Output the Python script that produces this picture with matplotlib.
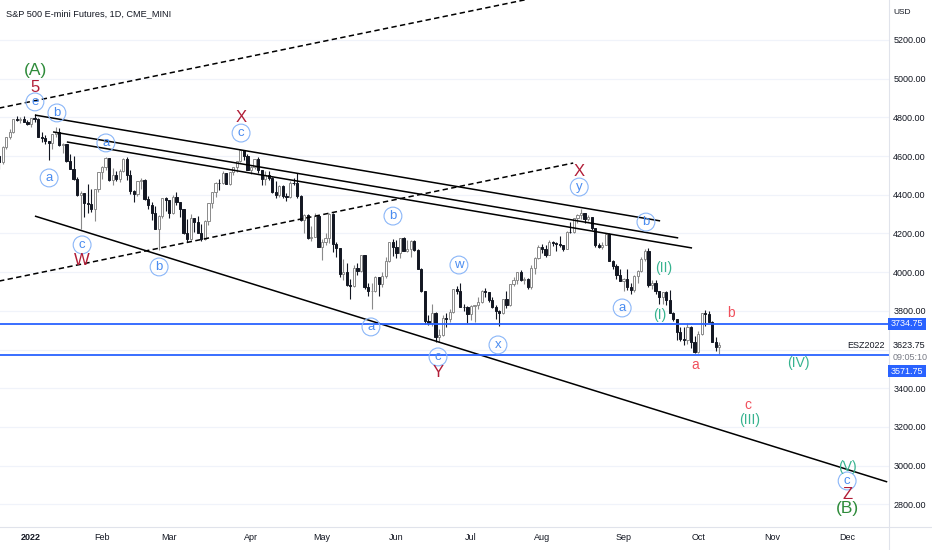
import numpy as np
import pandas as pd
import matplotlib
matplotlib.use('Agg')
import matplotlib.pyplot as plt
from matplotlib.patches import Rectangle
from matplotlib.lines import Line2D

plt.rcParams['font.family'] = ['Liberation Sans', 'DejaVu Sans']

W, H = 932, 550

# ES daily bars, 20 Dec 2021 .. 11 Oct 2022 (one line per month)
opens = np.array([
    4600, 4568, 4648, 4697, 4722, 4790, 4786, 4793, 4778,
    4766, 4795, 4793, 4700, 4696, 4677, 4670, 4713, 4726, 4659, 4663, 4577, 4533, 4483, 4398, 4410, 4356, 4350, 4326, 4432,
    4516, 4546, 4589, 4477, 4501, 4484, 4522, 4587, 4504, 4419, 4402, 4472, 4475, 4380, 4349, 4305, 4225, 4288, 4385,
    4374, 4306, 4387, 4363, 4329, 4201, 4171, 4278, 4260, 4204, 4173, 4262, 4358, 4412, 4463, 4461, 4512, 4457, 4520, 4543, 4576, 4632, 4603,
    4530, 4546, 4583, 4526, 4481, 4500, 4488, 4413, 4397, 4447, 4392, 4391, 4463, 4460, 4394, 4272, 4296, 4175, 4184, 4288,
    4132, 4155, 4175, 4300, 4147, 4123, 3991, 4001, 3935, 3930, 4024, 4008, 4088, 3923, 3901, 3901, 3974, 3941, 3979, 4058, 4158,
    4132, 4101, 4177, 4109, 4121, 4161, 4116, 4018, 3901, 3750, 3735, 3790, 3667, 3675, 3765, 3760, 3796, 3912, 3901, 3821, 3819,
    3785, 3825, 3831, 3845, 3903, 3899, 3855, 3819, 3801, 3790, 3863, 3831, 3937, 3960, 3999, 3962, 3967, 3921, 4024, 4072,
    4130, 4119, 4091, 4155, 4152, 4145, 4140, 4122, 4210, 4207, 4280, 4297, 4305, 4275, 4284, 4228, 4138, 4128, 4141, 4199, 4058, 4031, 3986,
    3955, 3967, 3924, 3908, 3980, 4006, 4067, 4110, 3932, 3946, 3901, 3873, 3900, 3856, 3790, 3758, 3693, 3655, 3647, 3719, 3640,
    3586, 3678, 3791, 3783, 3745, 3640, 3612,
])
highs = np.array([
    4605, 4651, 4698, 4740, 4791, 4808, 4804, 4808, 4787,
    4797, 4819, 4798, 4725, 4708, 4680, 4714, 4749, 4745, 4666, 4663, 4612, 4602, 4494, 4418, 4411, 4454, 4429, 4432, 4516,
    4550, 4595, 4590, 4540, 4522, 4531, 4590, 4595, 4527, 4427, 4472, 4489, 4480, 4394, 4363, 4340, 4295, 4385, 4389,
    4375, 4401, 4416, 4363, 4329, 4276, 4300, 4280, 4292, 4247, 4272, 4360, 4412, 4465, 4481, 4522, 4515, 4520, 4546, 4576, 4637, 4634, 4610,
    4548, 4583, 4593, 4530, 4521, 4521, 4490, 4471, 4453, 4452, 4411, 4471, 4489, 4512, 4400, 4300, 4300, 4240, 4308, 4295,
    4169, 4200, 4308, 4305, 4158, 4125, 4068, 4050, 3965, 4038, 4047, 4090, 4090, 3946, 3943, 3981, 3975, 3999, 4076, 4158, 4169,
    4166, 4177, 4180, 4168, 4165, 4165, 4119, 4020, 3905, 3779, 3838, 3792, 3708, 3780, 3790, 3809, 3914, 3928, 3946, 3837, 3825,
    3829, 3832, 3870, 3906, 3918, 3900, 3874, 3829, 3805, 3863, 3903, 3939, 3975, 4000, 4012, 3976, 3970, 4039, 4078, 4141,
    4144, 4140, 4167, 4161, 4155, 4187, 4142, 4211, 4258, 4280, 4301, 4325, 4306, 4293, 4286, 4230, 4149, 4156, 4200, 4203, 4063, 4044, 4016,
    3970, 4018, 3942, 3987, 4010, 4076, 4119, 4125, 3961, 3959, 3905, 3900, 3905, 3907, 3795, 3760, 3715, 3717, 3736, 3720, 3672,
    3698, 3791, 3807, 3797, 3750, 3666, 3641,
])
lows = np.array([
    4531, 4560, 4636, 4690, 4718, 4780, 4770, 4775, 4760,
    4750, 4775, 4699, 4671, 4663, 4582, 4638, 4701, 4651, 4614, 4568, 4531, 4474, 4395, 4223, 4287, 4305, 4310, 4264, 4415,
    4484, 4530, 4470, 4451, 4471, 4465, 4520, 4477, 4402, 4364, 4395, 4430, 4374, 4327, 4268, 4221, 4114, 4280, 4318,
    4279, 4300, 4345, 4284, 4199, 4157, 4165, 4210, 4200, 4161, 4165, 4245, 4330, 4390, 4425, 4455, 4455, 4450, 4501, 4517, 4570, 4582, 4530,
    4507, 4535, 4514, 4453, 4451, 4477, 4408, 4381, 4390, 4382, 4367, 4385, 4450, 4385, 4267, 4200, 4170, 4162, 4180, 4132,
    4062, 4140, 4153, 4106, 4077, 3975, 3958, 3928, 3859, 3925, 3984, 4000, 3912, 3876, 3810, 3895, 3875, 3925, 3970, 4055, 4084,
    4074, 4074, 4107, 4105, 4080, 4110, 4017, 3900, 3734, 3725, 3723, 3640, 3640, 3670, 3717, 3743, 3790, 3889, 3820, 3800, 3739,
    3753, 3743, 3809, 3840, 3870, 3847, 3815, 3759, 3722, 3785, 3814, 3825, 3929, 3940, 3956, 3937, 3911, 3915, 3993, 4070,
    4097, 4080, 4088, 4136, 4108, 4129, 4112, 4120, 4201, 4205, 4256, 4277, 4253, 4262, 4218, 4129, 4123, 4119, 4140, 4057, 4017, 3965, 3954,
    3903, 3906, 3886, 3900, 3945, 4000, 4060, 3922, 3912, 3888, 3838, 3838, 3831, 3789, 3749, 3648, 3645, 3624, 3630, 3610, 3584,
    3580, 3675, 3723, 3744, 3637, 3591, 3578,
])
closes = np.array([
    4568, 4649, 4697, 4725, 4791, 4786, 4793, 4778, 4766,
    4796, 4793, 4700, 4696, 4677, 4670, 4713, 4726, 4659, 4663, 4577, 4533, 4483, 4398, 4410, 4356, 4350, 4326, 4432, 4516,
    4546, 4589, 4477, 4501, 4484, 4522, 4587, 4504, 4419, 4402, 4472, 4475, 4380, 4349, 4305, 4225, 4288, 4385, 4374,
    4306, 4387, 4363, 4329, 4201, 4171, 4278, 4260, 4204, 4173, 4262, 4358, 4412, 4463, 4461, 4512, 4457, 4520, 4543, 4576, 4632, 4603, 4530,
    4546, 4583, 4526, 4481, 4500, 4488, 4413, 4397, 4447, 4392, 4391, 4463, 4460, 4394, 4272, 4296, 4175, 4184, 4288, 4132,
    4155, 4175, 4300, 4147, 4123, 3991, 4001, 3935, 3930, 4024, 4008, 4088, 3923, 3901, 3901, 3974, 3941, 3979, 4058, 4158, 4132,
    4101, 4177, 4109, 4121, 4161, 4116, 4018, 3901, 3750, 3735, 3790, 3667, 3675, 3765, 3760, 3796, 3912, 3901, 3821, 3819, 3785,
    3825, 3831, 3845, 3903, 3899, 3855, 3819, 3801, 3790, 3863, 3831, 3937, 3960, 3999, 3962, 3967, 3921, 4024, 4072, 4130,
    4119, 4091, 4155, 4152, 4145, 4140, 4122, 4210, 4207, 4280, 4297, 4305, 4275, 4284, 4228, 4138, 4128, 4141, 4199, 4058, 4031, 3986, 3955,
    3967, 3924, 3908, 3980, 4006, 4067, 4110, 3932, 3946, 3901, 3873, 3900, 3856, 3790, 3758, 3693, 3655, 3647, 3719, 3640, 3586,
    3678, 3791, 3783, 3745, 3640, 3612, 3624,
])

holidays = ['2021-12-24', '2022-01-17', '2022-02-21', '2022-04-15', '2022-05-30',
            '2022-06-20', '2022-07-04', '2022-09-05', '2022-11-24']
month_labels = ['2022', 'Feb', 'Mar', 'Apr', 'May', 'Jun', 'Jul', 'Aug', 'Sep', 'Oct', 'Nov', 'Dec']
price_ticks = [2800, 3000, 3200, 3400, 3800, 4000, 4200, 4400, 4600, 4800, 5000, 5200]
grid_levels = [2800, 3000, 3200, 3400, 3600, 3800, 4000, 4200, 4400, 4600, 4800, 5000, 5200]

# drawings: (bar, price) end points, bar 0 = 3 Jan 2022
solid_lines = [((1.1, 4812), (177.3, 4265)),
               ((6.2, 4725), (182.4, 4177)),
               ((10.1, 4673), (186.3, 4125)),
               ((1.1, 4290), (241.3, 2916))]
dashed_lines = [((-9.0, 4848), (160.0, 5486)),
                ((-9.0, 3954), (152.8, 4564))]
hlines = [3734.75, 3571.75]

wave_labels = [
    ('(A)', 1.4, 5040, 'green'), ('5', 1.1, 4952, 'red'), ('e', 1.1, 4880, 'circle'),
    ('b', 7.3, 4823, 'circle'), ('a', 5.1, 4487, 'circle'), ('a', 21.1, 4668, 'circle'),
    ('c', 14.4, 4141, 'circle'), ('W', 14.4, 4058, 'red'), ('b', 36.1, 4027, 'circle'),
    ('X', 59.2, 4802, 'red'), ('c', 59.2, 4719, 'circle'),
    ('b', 102.0, 4290, 'circle'), ('w', 120.6, 4037, 'circle'), ('a', 95.8, 3717, 'circle'),
    ('x', 131.6, 3624, 'circle'), ('c', 114.7, 3562, 'circle'), ('Y', 114.7, 3479, 'red'),
    ('X', 154.5, 4518, 'red'), ('y', 154.5, 4440, 'circle'),
    ('b', 173.3, 4259, 'circle'), ('(II)', 178.4, 4022, 'teal'), ('a', 166.6, 3815, 'circle'),
    ('(I)', 177.3, 3779, 'teal'), ('b', 197.3, 3789, 'salmon'), ('a', 187.1, 3520, 'salmon'),
    ('(IV)', 216.2, 3531, 'teal'), ('c', 202.1, 3314, 'salmon'), ('(III)', 202.4, 3236, 'teal'),
    ('(V)', 230.0, 2995, 'teal'), ('c', 230.0, 2921, 'circle'), ('Z', 230.0, 2852, 'red'),
    ('(B)', 230.0, 2778, 'green'),
]

UP = '#8a8a8a'
DOWN = '#131722'
TEXT = '#131722'
GRID = '#f0f3fa'
BLUE = '#2962ff'
label_colors = {'green': '#2e8b3a', 'red': '#b11d37', 'teal': '#36b38f', 'salmon': '#f0505c'}
label_sizes = {'green': 12.5, 'red': 12, 'teal': 10, 'salmon': 10}


def fx(px):
    return px / W


def fy(py):
    return 1 - py / H


fig = plt.figure(figsize=(W / 100, H / 100), dpi=100)
ax = fig.add_axes([0, fy(527), fx(889), 527 / H])
ax.set_xlim(-8.74, 241.8)
ax.set_ylim(2683, 5406.7)
for s in ax.spines.values():
    s.set_visible(False)

# calendar -> month tick positions
cal = pd.bdate_range('2021-12-20', '2022-12-30', freq='C', holidays=holidays)
bar_pos = np.arange(len(cal)) - 9
month_x = []
for m in range(1, 13):
    first = np.where((cal.year == 2022) & (cal.month == m))[0][0]
    month_x.append(bar_pos[first])

for lv in grid_levels:
    ax.axhline(lv, color=GRID, lw=0.9, zorder=0)

# candles
x = np.arange(len(closes)) - 9
up = closes >= opens
ax.vlines(x[up], lows[up], highs[up], color=UP, lw=0.8, zorder=3)
ax.vlines(x[~up], lows[~up], highs[~up], color=DOWN, lw=0.8, zorder=3)
ax.bar(x[up], (closes - opens)[up], bottom=opens[up], width=0.62,
       facecolor='white', edgecolor=UP, lw=0.7, zorder=4)
ax.bar(x[~up], (opens - closes)[~up], bottom=closes[~up], width=0.62,
       facecolor=DOWN, edgecolor=DOWN, lw=0.7, zorder=4)

# drawings
for (x0, y0), (x1, y1) in solid_lines:
    ax.plot([x0, x1], [y0, y1], color='black', lw=1.1, zorder=5, solid_capstyle='butt')
for (x0, y0), (x1, y1) in dashed_lines:
    ax.plot([x0, x1], [y0, y1], color='black', lw=1.1, ls=(0, (3.5, 2.2)), zorder=5)
for lv in hlines:
    ax.axhline(lv, color=BLUE, lw=1.3, zorder=5)

for txt, bx, price, kind in wave_labels:
    if kind == 'circle':
        ax.scatter([bx], [price], s=165, facecolors='none', edgecolors='#8ab6f8',
                   linewidths=0.8, zorder=6)
        ax.text(bx, price, txt, color='#4a8cf0', fontsize=9.5, ha='center',
                va='center', zorder=7)
    else:
        ax.text(bx, price, txt, color=label_colors[kind], fontsize=label_sizes[kind],
                ha='center', va='center', zorder=7)

# axes ticks
ax.yaxis.tick_right()
ax.set_yticks(price_ticks)
ax.set_yticklabels([f'{v:.2f}' for v in price_ticks])
ax.tick_params(axis='y', length=0, pad=3, labelsize=6.5, colors=TEXT)
ax.set_xticks(month_x)
ax.set_xticklabels(month_labels)
ax.tick_params(axis='x', length=0, pad=4, labelsize=6.5, colors=TEXT)
ax.get_xticklabels()[0].set_fontweight('bold')

# separators
fig.add_artist(Line2D([0, 1], [fy(527), fy(527)], color='#e0e3eb', lw=0.8, transform=fig.transFigure))
fig.add_artist(Line2D([fx(889), fx(889)], [0, 1], color='#e0e3eb', lw=0.8, transform=fig.transFigure))

# price labels on the scale
for lv, cy in [(3734.75, 323.5), (3571.75, 371)]:
    fig.add_artist(Rectangle((fx(888), fy(cy + 6)), 38 / W, 12 / H, transform=fig.transFigure,
                             facecolor=BLUE, edgecolor='none', zorder=4))
    fig.text(fx(907), fy(cy), f'{lv:.2f}', color='white', fontsize=6.5, ha='center',
             va='center', zorder=5)
fig.text(fx(893), fy(345), '3623.75', color=TEXT, fontsize=6.5, ha='left', va='center')
fig.text(fx(893), fy(357), '09:05:10', color='#787b86', fontsize=6.5, ha='left', va='center')
fig.text(fx(885), fy(345), 'ESZ2022', color=TEXT, fontsize=6.5, ha='right', va='center')
fig.text(fx(893), fy(12), 'USD', color=TEXT, fontsize=6, ha='left', va='center')

fig.text(fx(6), fy(14), 'S&P 500 E-mini Futures, 1D, CME_MINI', color=TEXT,
         fontsize=6.6, ha='left', va='center')

fig.savefig('out.png', dpi=100, facecolor='white')
